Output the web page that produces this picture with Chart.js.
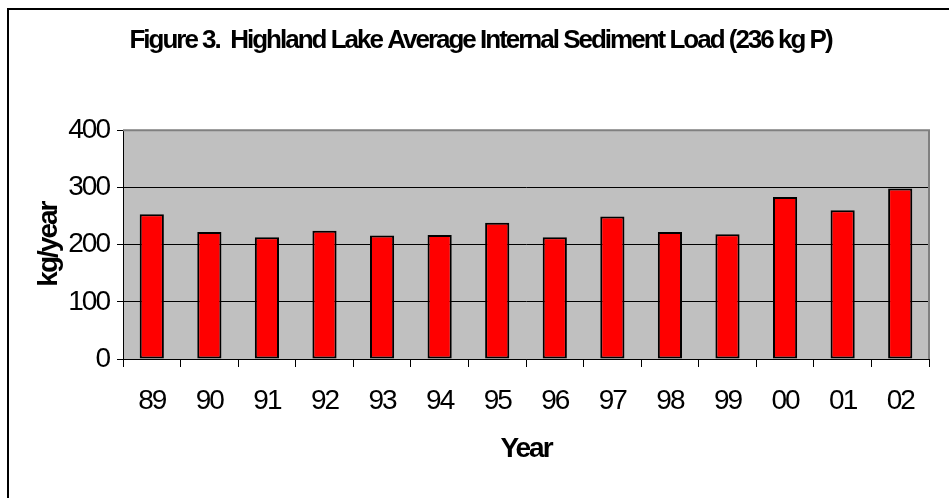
<!DOCTYPE html>
<html>
<head>
<meta charset="utf-8">
<script src="https://cdn.jsdelivr.net/npm/chart.js@4"></script>
<style>
  html, body { margin: 0; padding: 0; background: #fff; overflow: hidden; }
  #frame { position: absolute; left: 7px; top: 8px; width: 1000px; height: 600px; border: 2px solid #000; }
  #myChart { position: absolute; left: 0; top: 0; }
</style>
</head>
<body>
<div id="frame"></div>
<canvas id="myChart" width="949" height="498"></canvas>
<script>
/* Highland Lake internal sediment load, one bar per year. */
const years = ["89", "90", "91", "92", "93", "94", "95", "96", "97", "98", "99", "00", "01", "02"];
const loads = [253, 222, 213, 224, 216, 217, 238, 213, 249, 222, 218, 283, 260, 298];
const yTicks = [0, 100, 200, 300, 400];

const FONT = "'Liberation Sans', Arial, sans-serif";

/* Excel-ish look: grey plot area, tight lettering, grey top/right edge. */
const plotArea = {
  id: "plotArea",
  beforeUpdate(chart) {
    chart.ctx.letterSpacing = "-2px";
  },
  beforeDraw(chart) {
    const { ctx, chartArea: a } = chart;
    ctx.letterSpacing = "-2px";
    ctx.save();
    ctx.fillStyle = "#c0c0c0";
    ctx.fillRect(a.left, a.top, a.right - a.left, a.bottom - a.top);
    ctx.restore();
  },
  beforeDatasetsDraw(chart) {
    const { ctx, chartArea: a } = chart;
    ctx.save();
    ctx.strokeStyle = "#808080";
    ctx.lineWidth = 2;
    ctx.beginPath();
    ctx.moveTo(a.left, a.top);
    ctx.lineTo(a.right, a.top);
    ctx.lineTo(a.right, a.bottom);
    ctx.stroke();
    ctx.restore();
  },
};

const ctx = document.getElementById("myChart");

new Chart(ctx, {
  type: "bar",
  data: {
    labels: years,
    datasets: [
      {
        label: "kg/year",
        data: loads,
        backgroundColor: "#ff0000",
        borderColor: "#000000",
        borderWidth: 2,
        borderSkipped: false,
        barPercentage: 0.42,
        categoryPercentage: 1,
      },
    ],
  },
  options: {
    responsive: false,
    animation: false,
    devicePixelRatio: 1,
    layout: { padding: { left: 32, right: 20, top: 0, bottom: 0 } },
    plugins: {
      legend: { display: false },
      tooltip: { enabled: false },
      title: {
        display: true,
        text: "Figure 3.  Highland Lake Average Internal Sediment Load (236 kg P)",
        color: "#000",
        font: { family: FONT, size: 26, weight: "bold", lineHeight: 1.2 },
        padding: { top: 25, bottom: 74 },
      },
    },
    scales: {
      x: {
        grid: {
          offset: true,
          drawOnChartArea: false,
          color: "#000",
          tickLength: 8,
        },
        border: { color: "#000", width: 1 },
        ticks: {
          color: "#000",
          font: { family: FONT, size: 28 },
          padding: 17,
          autoSkip: false,
          maxRotation: 0,
        },
        title: {
          display: true,
          text: "Year",
          color: "#000",
          font: { family: FONT, size: 28, weight: "bold", lineHeight: 1.2 },
          padding: { top: 0, bottom: 32 },
        },
        afterFit(scale) {
          scale.height = 139;
        },
      },
      y: {
        min: 0,
        max: 400,
        grid: {
          color: (c) => (c.tick && c.tick.value === 400 ? "rgba(0,0,0,0)" : "#000"),
          tickColor: "#000",
          lineWidth: 1,
          tickLength: 6,
        },
        border: { color: "#000", width: 1 },
        afterBuildTicks(scale) {
          scale.ticks = yTicks.map((v) => ({ value: v }));
        },
        ticks: {
          color: "#000",
          font: { family: FONT, size: 28 },
          padding: 8,
        },
        title: {
          display: true,
          text: "kg/year",
          color: "#000",
          font: { family: FONT, size: 28, weight: "bold", lineHeight: 1.2 },
          padding: { top: 0, bottom: 0 },
        },
        afterFit(scale) {
          scale.width = 91;
        },
      },
    },
  },
  plugins: [plotArea],
});
</script>
</body>
</html>
